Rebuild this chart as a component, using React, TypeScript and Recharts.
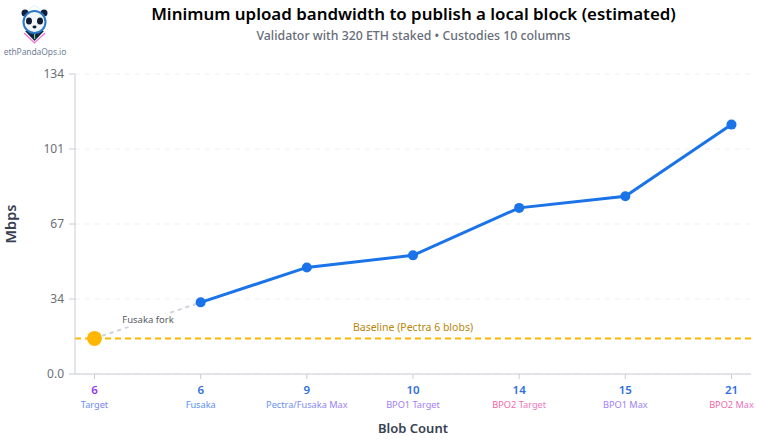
import React from "react";
import {
  LineChart,
  Line,
  XAxis,
  YAxis,
  CartesianGrid,
  ReferenceLine,
} from "recharts";

const FONT = '"Noto Sans", "Open Sans", sans-serif';

const forks = ["Target", "Fusaka", "Pectra/Fusaka Max", "BPO1 Target", "BPO2 Target", "BPO1 Max", "BPO2 Max"];
const blobCounts = [6, 6, 9, 10, 14, 15, 21];
const mbps = [null, 32, 47.6, 53, 74.2, 79.4, 111.4];
const forkSegment = [15.9, 32, null, null, null, null, null];
const startPoint = [15.9, null, null, null, null, null, null];
const baseline = 15.9;
const yTicks = [0, 33.5, 67, 100.5, 134];
const yTickLabels = ["0.0", "34", "67", "101", "134"];
const countColors = ["#9333ea", "#2f6fe4", "#2f6fe4", "#2f6fe4", "#2f6fe4", "#2f6fe4", "#2f6fe4"];
const labelColors = [
  ["#5f93f3", "#7f80f3"],
  ["#4f95f3", "#6389f0"],
  ["#5f93f3", "#a07ff6"],
  ["#9a7cf8", "#a67ef6"],
  ["#f2609c", "#ec7cc0"],
  ["#9a7cf8", "#9a84f3"],
  ["#f2609c", "#e078c8"],
];

const data = forks.map((fork, i) => ({
  fork,
  count: blobCounts[i],
  mbps: mbps[i],
  forkSegment: forkSegment[i],
  startPoint: startPoint[i],
}));

const BlobTick = ({ x, y, payload, index }: any) => {
  const i = payload.index ?? index;
  return (
    <g>
      <text x={x} y={y + 13} textAnchor="middle" fontSize={11.5} fontWeight={600} fontFamily={FONT} fill={countColors[i]}>
        {blobCounts[i]}
      </text>
      <text x={x} y={y + 27} textAnchor="middle" fontSize={9.2} fontFamily={FONT} fill={`url(#fork-label-${i})`}>
        {forks[i]}
      </text>
    </g>
  );
};

// sits halfway along the dashed segment, white box hides the line behind it
const ForkLabel = ({ x, y, index }: any) => {
  if (index !== 0) return null;
  return (
    <g>
      <rect x={x + 27} y={y - 25} width={54} height={13} fill="#fff" />
      <text x={x + 53.5} y={y - 15} textAnchor="middle" fontSize={9.5} fontFamily={FONT} fill="#555b66">
        Fusaka fork
      </text>
    </g>
  );
};

const PandaLogo = () => (
  <svg width={45} height={42} style={{ position: "absolute", left: 12, top: 5 }}>
    <path d="M22.5 0 L30 6 M22.5 0 L15 6" stroke="#c8f0f8" strokeWidth={0.8} fill="none" />
    <path d="M12 28 L22.5 38 L33 28" stroke="#f06fd8" strokeWidth={1.2} fill="none" />
    <path d="M13 26 L22.5 36 L32 26 Z" fill="#12223f" />
    <circle cx={13} cy={8} r={3.5} fill="#10203c" />
    <circle cx={32} cy={8} r={3.5} fill="#10203c" />
    <ellipse cx={22.5} cy={17} rx={12} ry={12} fill="#2a78c8" />
    <ellipse cx={22.5} cy={17} rx={10} ry={10} fill="#f2f6fb" />
    <ellipse cx={17} cy={16} rx={3} ry={3.5} fill="#0f1c33" />
    <ellipse cx={28} cy={16} rx={3} ry={3.5} fill="#0f1c33" />
    <ellipse cx={22.5} cy={22} rx={2} ry={1.4} fill="#0f1c33" />
    <rect x={22} y={29} width={1.2} height={5} fill="#6fd08a" />
  </svg>
);

export default function App() {
  return (
    <div style={{ position: "absolute", left: 0, top: 0, width: 757, height: 444, background: "#fff", fontFamily: FONT }}>
      <PandaLogo />
      <div style={{ position: "absolute", left: 0, width: 70, top: 46, textAlign: "center", fontSize: 8.5, letterSpacing: -0.1, color: "#71829a" }}>
        ethPandaOps.io
      </div>
      <div style={{ position: "absolute", left: 0, width: 827, top: 2, textAlign: "center", fontSize: 16.9, fontWeight: 600, color: "#000" }}>
        Minimum upload bandwidth to publish a local block (estimated)
      </div>
      <div style={{ position: "absolute", left: 0, width: 827, top: 27, textAlign: "center", fontSize: 12.3, fontWeight: 500, color: "#666d78" }}>
        Validator with 320 ETH staked • Custodies 10 columns
      </div>
      <LineChart width={757} height={444} data={data} margin={{ top: 74, right: 6, bottom: 0, left: 0 }}>
        <defs>
          {labelColors.map((c, i) => (
            <linearGradient key={i} id={`fork-label-${i}`} x1="0" y1="0" x2="1" y2="0">
              <stop offset="0%" stopColor={c[0]} />
              <stop offset="100%" stopColor={c[1]} />
            </linearGradient>
          ))}
        </defs>
        <CartesianGrid vertical={false} stroke="#f0f0f0" strokeDasharray="5 5" />
        <XAxis
          dataKey="fork"
          scale="point"
          interval={0}
          height={70}
          padding={{ left: 19.5, right: 19.5 }}
          stroke="#c9ccd3"
          tickSize={5}
          tick={<BlobTick />}
          label={{ value: "Blob Count", position: "insideBottom", offset: 11, fontSize: 13, fontWeight: 600, fontFamily: FONT, fill: "#374151" }}
        />
        <YAxis
          width={75}
          domain={[0, 134]}
          ticks={yTicks}
          interval={0}
          stroke="#c9ccd3"
          tickSize={6}
          tickMargin={5}
          tick={{ fontSize: 12, fontFamily: FONT, fill: "#6b6f76" }}
          tickFormatter={(v: number) => yTickLabels[yTicks.indexOf(v)]}
          label={{ value: "Mbps", angle: -90, position: "insideLeft", offset: 11, textAnchor: "middle", fontSize: 14.5, fontWeight: 600, fontFamily: FONT, fill: "#374151" }}
        />
        <ReferenceLine
          y={baseline}
          stroke="#ffb703"
          strokeWidth={2}
          strokeDasharray="6 4"
          label={{ value: "Baseline (Pectra 6 blobs)", position: "top", offset: 7, fontSize: 10.5, fontFamily: FONT, fill: "#b8860b" }}
        />
        <Line
          dataKey="forkSegment"
          stroke="#cfd2d9"
          strokeWidth={2}
          strokeDasharray="4 4"
          dot={false}
          isAnimationActive={false}
          label={<ForkLabel />}
        />
        <Line dataKey="mbps" stroke="#1a73e8" strokeWidth={3} dot={{ r: 5, fill: "#1a73e8", stroke: "#1a73e8", strokeWidth: 0 }} isAnimationActive={false} />
        <Line dataKey="startPoint" stroke="#ffb703" dot={{ r: 7.5, fill: "#ffb703", stroke: "#ffb703", strokeWidth: 0 }} isAnimationActive={false} />
      </LineChart>
    </div>
  );
}
